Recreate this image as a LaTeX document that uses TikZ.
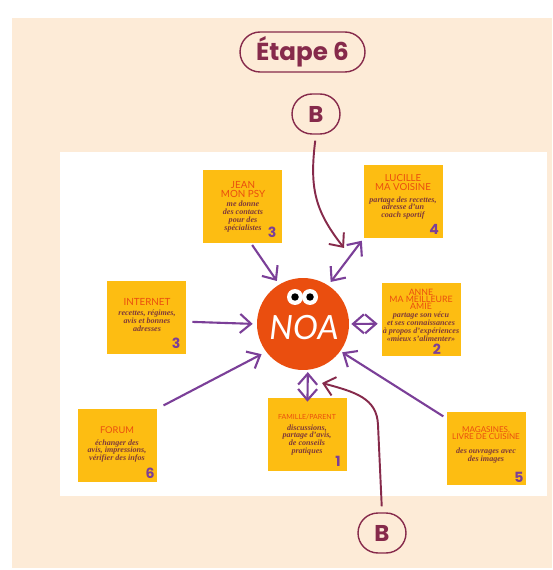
\documentclass[tikz,border=0pt]{standalone}
\usepackage{fontspec}
\setmainfont{Liberation Serif}
\newfontfamily\titlefont{Poppins}
\newfontfamily\headfont{Lato}
\usetikzlibrary{arrows.meta}
\definecolor{peach}{HTML}{FDEBD7}
\definecolor{maroon}{HTML}{862A4B}
\definecolor{noaorange}{HTML}{EA4E0F}
\definecolor{cardyellow}{HTML}{FDBD12}
\definecolor{arrowpurple}{HTML}{7B3F98}
\definecolor{bodybrown}{HTML}{7F3A3A}
\tikzset{
	card/.style={fill=cardyellow,minimum width=1.58cm,minimum height=1.46cm,inner sep=0pt},
	cardtitle/.style={text=noaorange,align=center,inner sep=0pt,font=\headfont\fontsize{#1}{4}\selectfont},
	cardtitle/.default=5,
	cardbody/.style={text=bodybrown,align=center,inner sep=0pt,font=\bfseries\itshape\fontsize{4.6}{4.5}\selectfont},
	cardnum/.style={text=arrowpurple,inner sep=0pt,font=\titlefont\bfseries\fontsize{8}{8}\selectfont},
	letterbox/.style={draw=maroon,thick,rounded corners=0.4cm,text=maroon,minimum width=0.96cm,minimum height=0.8cm,inner sep=0pt,font=\titlefont\bfseries\fontsize{13}{14}\selectfont},
	toarrow/.style={arrowpurple,line width=1.2pt,-{Straight Barb[length=2.2mm,width=3.8mm]}},
	botharrow/.style={arrowpurple,line width=1.2pt,{Straight Barb[length=2.2mm,width=3.8mm]}-{Straight Barb[length=2.2mm,width=3.8mm]}},
	baarrow/.style={maroon,line width=1.1pt,-{Straight Barb[length=2.2mm,width=3.8mm]}}
}

\begin{document}
\begin{tikzpicture}[x=0.02cm,y=-0.02cm]
	\useasboundingbox (0,0) rectangle (552,570);
	\fill[peach] (12,18) rectangle (552,568);
	\fill[white] (60,152) rectangle (547,496);

	\node[draw=maroon,thick,rounded corners=0.4cm,text=maroon,minimum width=2.5cm,minimum height=0.8cm,inner sep=0pt,font=\titlefont\bfseries\fontsize{14}{15}\selectfont] (etape) at (302.5,52) {Étape 6};
	\node[letterbox] (btop) at (316,114) {B};
	\node[letterbox] (bbot) at (382,533) {B};

	\node[circle,fill=noaorange,minimum size=1.84cm,inner sep=0pt] (noa) at (303,324) {};
	\node[text=white,inner sep=0pt,font=\headfont\itshape\fontsize{19}{19}\selectfont] (noaname) at (304,328) {NOA};
	\node[circle,fill=white,minimum size=0.32cm,inner sep=0pt] (eyeleft) at (295,297) {};
	\node[circle,fill=white,minimum size=0.32cm,inner sep=0pt] (eyeright) at (310,297) {};
	\node[circle,fill=black,minimum size=0.15cm,inner sep=0pt] (pupilleft) at (295,297) {};
	\node[circle,fill=black,minimum size=0.15cm,inner sep=0pt] (pupilright) at (310,297) {};

	% cards
	\node[card] (jean) at (242.5,206.5) {};
	\node[cardtitle=5.6] (jeantitle) at (243,189.5) {JEAN\\MON PSY};
	\node[cardbody] (jeantext) at (243,216.5) {me donne\\des contacts\\pour des\\spécialistes};
	\node[cardnum] (jeannum) at (272,232) {3};

	\node[card] (lucille) at (403.5,201.5) {};
	\node[cardtitle=5.5] (lucilletitle) at (403,182.5) {LUCILLE\\MA VOISINE};
	\node[cardbody] (lucilletext) at (403,208) {partage des recettes,\\adresse d'un\\coach sportif};
	\node[cardnum] (lucillenum) at (434,229) {4};

	\node[card] (internet) at (146.5,317.5) {};
	\node[cardtitle=5.6] (internettitle) at (147,302) {INTERNET};
	\node[cardbody] (internettext) at (147,321) {recettes, régimes,\\avis et bonnes\\adresses};
	\node[cardnum] (internetnum) at (176,343) {3};

	\node[card] (anne) at (421.5,319.5) {};
	\node[cardtitle=5] (annetitle) at (421,299) {ANNE\\MA MEILLEURE\\AMIE};
	\node[cardbody] (annetext) at (421,326.5) {partage son vécu\\et ses connaissances\\à propos d'expériences\\«mieux s'alimenter»};
	\node[cardnum] (annenum) at (437,349) {2};

	\node[card] (forum) at (117.5,445.5) {};
	\node[cardtitle=5.3] (forumtitle) at (117,430) {FORUM};
	\node[cardbody] (forumtext) at (117,451) {échanger des\\avis, impressions,\\vérifier des infos};
	\node[cardnum] (forumnum) at (150,473) {6};

	\node[card] (famille) at (307.5,434.5) {};
	\node[cardtitle=4] (familletitle) at (307,417) {FAMILLE/PARENT};
	\node[cardbody] (familletext) at (307,440) {discussions,\\partage d'avis,\\de conseils\\pratiques};
	\node[cardnum] (famillenum) at (338,461) {1};

	\node[card] (magasins) at (486.5,448.5) {};
	\node[cardtitle=4.6] (magasinstitle) at (486,433.5) {MAGASINES,\\LIVRE DE CUISINE};
	\node[cardbody] (magasinstext) at (486,455.5) {des ouvrages avec\\des images};
	\node[cardnum] (magasinsnum) at (519,477) {5};

	% arrows to NOA
	\draw[toarrow,shorten <=0.04cm,shorten >=0.08cm] (jean.-77) -- (noa.121);
	\draw[botharrow,shorten <=0.06cm,shorten >=0.08cm] (lucille.south west) -- (noa.57);
	\draw[toarrow,shorten <=0.12cm,shorten >=0.08cm] (internet.-6) -- (noa.180);
	\draw[botharrow,shorten <=0.08cm,shorten >=0.04cm] (anne.186) -- (noa.0);
	\draw[toarrow,shorten <=0.14cm,shorten >=0.1cm] (forum.north east) -- (noa.217);
	\draw[botharrow,shorten <=-0.08cm,shorten >=0.04cm] (famille.north) -- (noa.-84);
	\draw[toarrow,shorten <=0.08cm,shorten >=0.04cm] (magasins.143) -- (noa.-36);

	% arrows from B
	\coordinate (tiptop) at (344,248);
	\coordinate (tipbot) at (322,383);
	\draw[baarrow,shorten <=0.12cm] (btop.-90) .. controls (309,190) and (316,212) .. (tiptop);
	\draw[baarrow,shorten <=0.12cm] (bbot.north) -- (378,425) .. controls (377,398) and (355,392) .. (tipbot);
\end{tikzpicture}
\end{document}
